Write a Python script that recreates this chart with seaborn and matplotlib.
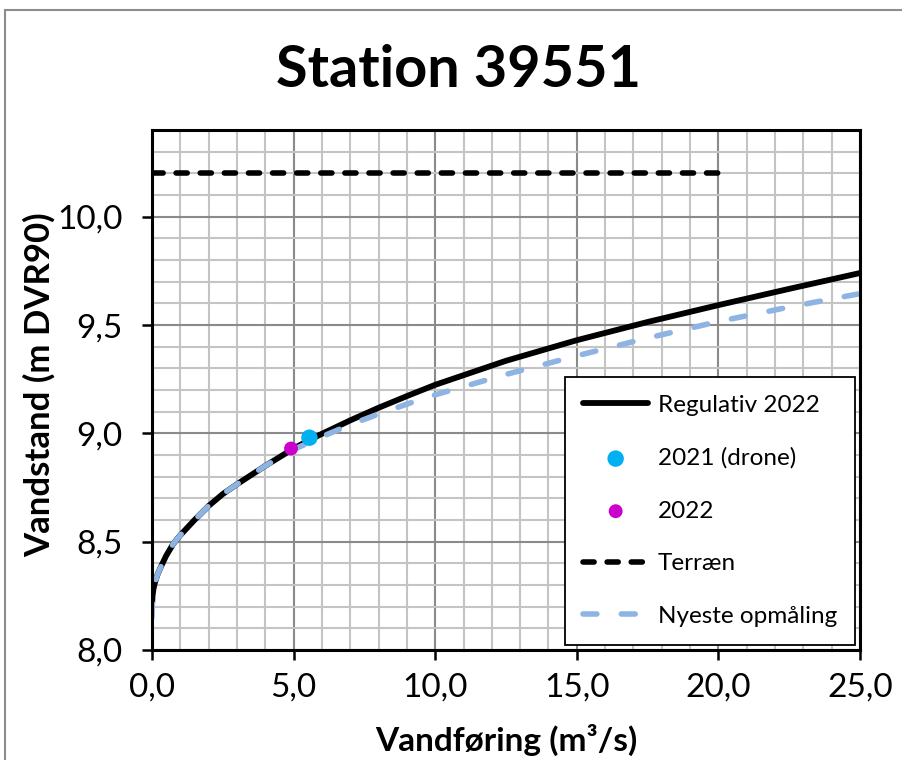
import numpy as np
import pandas as pd
import matplotlib
matplotlib.use('Agg')
import matplotlib.pyplot as plt
from matplotlib.patches import Rectangle
from matplotlib.ticker import MultipleLocator, FuncFormatter
import seaborn as sns

# Data

q_regulativ = [0.0, 0.02, 0.05, 0.1, 0.2, 0.3, 0.5, 0.75, 1.0, 1.5, 2.0, 2.5, 3.0, 4.0, 5.0, 5.6, 6.0, 7.0, 8.0, 9.0,
               10.0, 12.5, 15.0, 17.5, 20.0, 22.5, 25.0]
h_regulativ = [8.20, 8.25, 8.28, 8.31, 8.35, 8.38, 8.435, 8.49, 8.53, 8.60, 8.665, 8.72, 8.765, 8.85, 8.93, 8.972, 8.998,
               9.06, 9.118, 9.172, 9.224, 9.335, 9.43, 9.514, 9.592, 9.667, 9.74]

q_nyeste = [0.0, 0.02, 0.05, 0.1, 0.2, 0.3, 0.5, 0.75, 1.0, 1.5, 2.0, 2.5, 3.0, 4.0, 5.0, 6.0, 7.0, 8.0, 9.0,
            10.0, 12.5, 15.0, 17.5, 20.0, 22.5, 25.0]
h_nyeste = [8.15, 8.23, 8.27, 8.31, 8.35, 8.38, 8.435, 8.49, 8.53, 8.60, 8.665, 8.72, 8.765, 8.85, 8.925, 8.985, 9.04,
            9.089, 9.135, 9.178, 9.272, 9.358, 9.44, 9.516, 9.583, 9.645]

q_drone = [5.56]
h_drone = [8.98]

q_2022 = [4.91]
h_2022 = [8.93]

q_terraen = [0.0, 20.0]
h_terraen = [10.2, 10.2]

labels = ['Regulativ 2022', '2021 (drone)', '2022', 'Terræn', 'Nyeste opmåling']

# Style

sns.set_theme(style='white')
plt.rcParams['font.family'] = ['Lato', 'DejaVu Sans']
plt.rcParams['text.color'] = 'black'
plt.rcParams['axes.labelcolor'] = 'black'
plt.rcParams['xtick.color'] = 'black'
plt.rcParams['ytick.color'] = 'black'

fig = plt.figure(figsize=(9.03, 7.6), dpi=100)
ax = fig.add_axes([0.1683, 0.1447, 0.7841, 0.6842])

# outer chart frame (grey)
fig.patches.append(Rectangle((5 / 903, -0.1), 1.2, 1.1 - 10 / 760, transform=fig.transFigure,
                             fill=False, edgecolor='#8c8c8c', linewidth=1.5))

# Make plot

sns.lineplot(ax=ax, x=q_terraen, y=h_terraen, color='black', label=labels[3])
ln = ax.lines[-1]
ln.set_linewidth(4.0)
ln.set_dashes([2.0, 2.34])
ln.set_dash_capstyle('round')

sns.lineplot(ax=ax, x=q_regulativ, y=h_regulativ, color='black', label=labels[0])
ax.lines[-1].set_linewidth(4.2)
ax.lines[-1].set_solid_joinstyle('round')

sns.lineplot(ax=ax, x=q_nyeste, y=h_nyeste, color='#8EB4E3', label=labels[4])
ln = ax.lines[-1]
ln.set_linewidth(4.0)
ln.set_dashes([2.5, 4.4])
ln.set_dash_capstyle('round')

sns.scatterplot(ax=ax, x=q_2022, y=h_2022, color='#CC00CC', s=100, edgecolor='none', label=labels[2], zorder=5)
sns.scatterplot(ax=ax, x=q_drone, y=h_drone, color='#00B0F0', s=140, edgecolor='none', label=labels[1], zorder=5)

ax.set_xlim(0, 25)
ax.set_ylim(8.0, 10.4)
ax.xaxis.set_major_locator(MultipleLocator(5))
ax.xaxis.set_minor_locator(MultipleLocator(1))
ax.yaxis.set_minor_locator(MultipleLocator(0.1))
ax.set_yticks([8.0, 8.5, 9.0, 9.5, 10.0])
comma = FuncFormatter(lambda v, p: ('%.1f' % v).replace('.', ','))
ax.xaxis.set_major_formatter(comma)
ax.yaxis.set_major_formatter(comma)

ax.grid(which='major', color='#8a8a8a', linewidth=1.5)
ax.grid(which='minor', color='#c4c4c4', linewidth=1.5)
ax.set_axisbelow(True)
for s in ax.spines.values():
    s.set_color('black')
    s.set_linewidth(2.2)
    s.set_visible(True)

ax.tick_params(which='major', direction='out', length=7, width=1.8, labelsize=24,
               bottom=True, left=True)
ax.tick_params(axis='x', which='major', pad=9)
ax.tick_params(axis='y', which='major', pad=14)
ax.tick_params(which='minor', length=0)

ax.set_xlabel('Vandføring (m³/s)', fontsize=24, fontweight='bold', labelpad=0)
ax.set_ylabel('Vandstand (m DVR90)', fontsize=25, fontweight='bold', labelpad=0)
ax.xaxis.set_label_coords(0.5, -0.142)
ax.yaxis.set_label_coords(-0.136, 0.51)

fig.text(0.5076, 0.907, 'Station 39551', ha='center', va='center', fontsize=41.5, fontweight='bold')

handles, labs = ax.get_legend_handles_labels()
order = [labs.index(l) for l in labels]
leg = ax.legend([handles[i] for i in order], [labs[i] for i in order],
                loc='lower right', bbox_to_anchor=(0.993, 0.0096), fontsize=17.5,
                frameon=True, fancybox=False, edgecolor='black', framealpha=1,
                handlelength=2.65, labelspacing=1.3, borderpad=0.75, handletextpad=0.4,
                borderaxespad=0)
leg.get_frame().set_linewidth(1.3)

plt.savefig('out.png', dpi=100)
